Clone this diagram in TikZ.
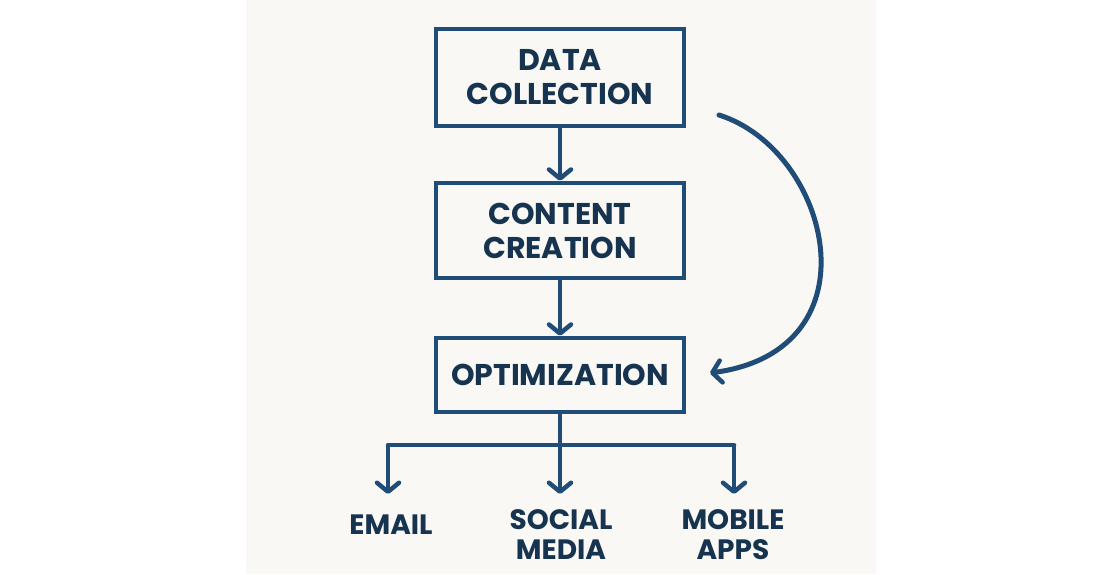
\documentclass[tikz,border=0pt]{standalone}
\usepackage{fontspec}
\setmainfont{Poppins}
\usetikzlibrary{arrows.meta}
\definecolor{navy}{HTML}{1F4D78}
\definecolor{ink}{HTML}{16344F}
\definecolor{paper}{HTML}{FAF8F4}
\begin{document}
\begin{tikzpicture}[x=1pt,y=-1pt,
  box/.style={draw=navy,line width=4.5pt,minimum width=248pt,inner sep=0pt,font=\fontsize{30}{34}\selectfont\bfseries,text=ink,align=center},
  lbl/.style={font=\fontsize{28}{30}\selectfont\bfseries,text=ink,align=center},
  conn/.style={draw=navy,line width=4.5pt,-{Straight Barb[length=9pt,width=22pt,line width=4.5pt,round]}},
  plain/.style={draw=navy,line width=4.5pt}]
\useasboundingbox (0,0) rectangle (1120,574);
\fill[white] (0,0) rectangle (1120,574);
\fill[paper] (246,0) rectangle (876,574);
\node[box,minimum height=97pt] (dc) at (560,77.5) {DATA\\COLLECTION};
\node[box,minimum height=95pt] (cc) at (560,230.5) {CONTENT\\CREATION};
\node[box,minimum height=74pt] (op) at (560,375) {OPTIMIZATION};
\draw[conn] (dc.south) -- (cc.north);
\draw[conn] (cc.south) -- (op.north);
\coordinate (j) at (560,445);
\coordinate (jl) at (388,445);
\coordinate (jr) at (734,445);
\node[lbl] (em) at (391,525) {EMAIL};
\node[lbl] (sm) at (561,535) {SOCIAL\\MEDIA};
\node[lbl] (ma) at (733,535) {MOBILE\\APPS};
\coordinate (el) at (388,494);
\coordinate (sl) at (560,494);
\coordinate (ml) at (734,494);
\draw[plain] (op.south) -- (j);
\draw[plain,line cap=round] (jl) -- (jr);
\draw[conn] (jl) -- (el);
\draw[conn] (j) -- (sl);
\draw[conn] (jr) -- (ml);
\coordinate (cs) at (719,115);
\coordinate (ce) at (710,373);
\draw[conn,line width=5pt,line cap=round] (cs) .. controls (830,150) and (880,350) .. (ce);
\end{tikzpicture}
\end{document}
